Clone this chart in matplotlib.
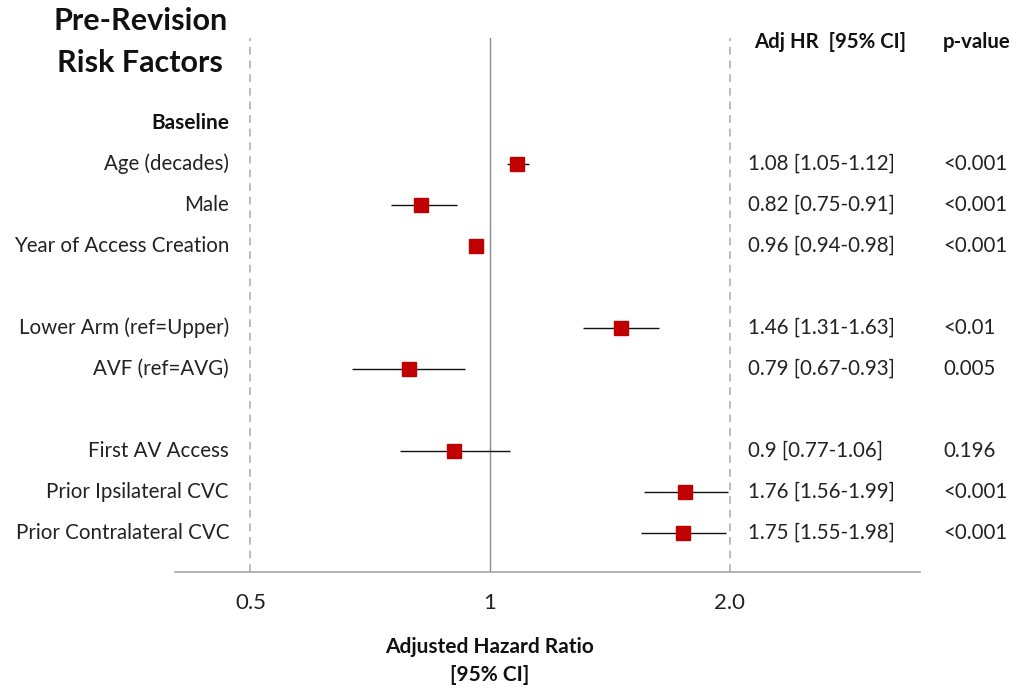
import matplotlib
matplotlib.use("Agg")
import matplotlib.pyplot as plt
import matplotlib.transforms as mtransforms
import numpy as np

plt.rcParams['font.family'] = ['Lato', 'DejaVu Sans']

# Rows of the forest plot: y index of each estimate (row 0 holds the "Baseline" header)
labels = ["Age (decades)", "Male", "Year of Access Creation",
          "Lower Arm (ref=Upper)", "AVF (ref=AVG)",
          "First AV Access", "Prior Ipsilateral CVC", "Prior Contralateral CVC"]
rows = [1, 2, 3, 5, 6, 8, 9, 10]
hr = [1.08, 0.82, 0.96, 1.46, 0.79, 0.90, 1.76, 1.75]
ci_low = [1.05, 0.75, 0.94, 1.31, 0.67, 0.77, 1.56, 1.55]
ci_high = [1.12, 0.91, 0.98, 1.63, 0.93, 1.06, 1.99, 1.98]
hr_text = ["1.08 [1.05-1.12]", "0.82 [0.75-0.91]", "0.96 [0.94-0.98]",
           "1.46 [1.31-1.63]", "0.79 [0.67-0.93]",
           "0.9 [0.77-1.06]", "1.76 [1.56-1.99]", "1.75 [1.55-1.98]"]
p_text = ["<0.001", "<0.001", "<0.001", "<0.01", "0.005",
          "0.196", "<0.001", "<0.001"]
xticks = [0.5, 1, 2.0]
xtick_labels = ["0.5", "1", "2.0"]

W, H = 1018, 688
fig = plt.figure(figsize=(W / 100, H / 100), dpi=100)
ax = fig.add_axes([175 / W, (H - 572) / H, (920 - 175) / W, (572 - 38) / H])

ax.set_xscale('log', base=2)
ax.set_xlim(0.402, 3.47)
ax.set_ylim(10.95, -2.07)

# reference lines
ax.axvline(1, color='#8c8c8c', lw=1.0, zorder=1)
for v in (0.5, 2.0):
    ax.axvline(v, color='#bdbdbd', lw=1.4, ls=(0, (4, 3)), zorder=1)

# estimates and intervals
ax.hlines(rows, ci_low, ci_high, color='#111111', lw=1.0, zorder=2)
ax.plot(hr, rows, ls='none', marker='s', ms=10.5, color='#C00000',
        mec='#C00000', zorder=3)

for s in ('top', 'right', 'left'):
    ax.spines[s].set_visible(False)
ax.spines['bottom'].set_color('#a6a6a6')
ax.spines['bottom'].set_linewidth(1.2)
ax.set_yticks([])
ax.set_xticks(xticks)
ax.set_xticklabels(xtick_labels, fontsize=16, color='#222222')
ax.xaxis.set_minor_locator(matplotlib.ticker.NullLocator())
ax.tick_params(axis='x', length=0, pad=15)

fig.text(490 / W, 1 - 647 / H, "Adjusted Hazard Ratio", ha='center', va='center',
         fontsize=15, fontweight='bold', color='#111111')
fig.text(490 / W, 1 - 675 / H, "[95% CI]", ha='center', va='center',
         fontsize=15, fontweight='bold', color='#111111')

trans = mtransforms.blended_transform_factory(fig.transFigure, ax.transData)
txt_color = '#222222'
for r, lab, t, p in zip(rows, labels, hr_text, p_text):
    ax.text(229 / W, r, lab, transform=trans, ha='right', va='center',
            fontsize=14.8, color=txt_color)
    ax.text(748 / W, r, t, transform=trans, ha='left', va='center',
            fontsize=14.8, color=txt_color)
    ax.text(943 / W, r, p, transform=trans, ha='left', va='center',
            fontsize=14.8, color=txt_color)

ax.text(229 / W, 0, "Baseline", transform=trans, ha='right', va='center',
        fontsize=15, fontweight='bold', color='#111111')

fig.text(906 / W, 1 - 42 / H, "Adj HR  [95% CI]", ha='right', va='center',
         fontsize=14.7, fontweight='bold', color='#111111')
fig.text(943 / W, 1 - 42 / H, "p-value", ha='left', va='center',
         fontsize=14.7, fontweight='bold', color='#111111')

fig.text(228 / W, 1 - 21 / H, "Pre-Revision", ha='right', va='center',
         fontsize=22, fontweight='bold', color='#111111')
fig.text(223 / W, 1 - 63 / H, "Risk Factors", ha='right', va='center',
         fontsize=22, fontweight='bold', color='#111111')

fig.savefig("out.png", dpi=100, facecolor='white')
